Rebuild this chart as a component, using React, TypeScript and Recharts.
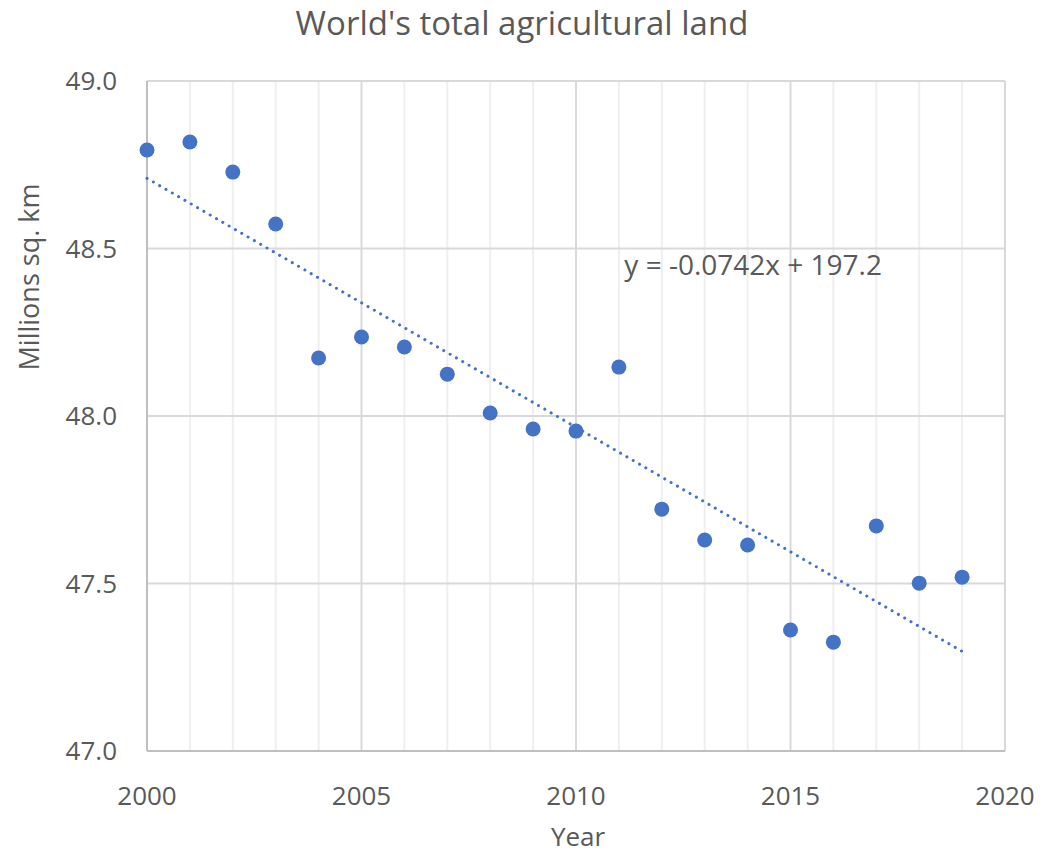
import React from 'react';
import {
  ScatterChart,
  Scatter,
  XAxis,
  YAxis,
  CartesianGrid,
  ReferenceDot,
} from 'recharts';

const years = [
  2000, 2001, 2002, 2003, 2004, 2005, 2006, 2007, 2008, 2009,
  2010, 2011, 2012, 2013, 2014, 2015, 2016, 2017, 2018, 2019,
];
const landArea = [
  48.794, 48.818, 48.728, 48.573, 48.173, 48.236, 48.206, 48.125, 48.009, 47.961,
  47.955, 48.146, 47.722, 47.63, 47.615, 47.361, 47.325, 47.672, 47.501, 47.519,
];
const xTicks = [2000, 2005, 2010, 2015, 2020];
const yTicks = [47.0, 47.5, 48.0, 48.5, 49.0];
const minorYears = [
  2001, 2002, 2003, 2004, 2006, 2007, 2008, 2009, 2011, 2012,
  2013, 2014, 2016, 2017, 2018, 2019,
];
const majorYears = [2005, 2010, 2015, 2020];
const gridValues = [47.5, 48.0, 48.5, 49.0];
const equation = 'y = -0.0742x + 197.2';

const FONT = '"Open Sans", sans-serif';
const TEXT = '#595959';
const BLUE = '#4472c4';

const points = years.map((year, i) => ({ year, value: landArea[i] }));

// least squares fit for the dotted trendline
const fitLine = () => {
  const n = years.length;
  const mx = years.reduce((s, v) => s + v, 0) / n;
  const my = landArea.reduce((s, v) => s + v, 0) / n;
  let num = 0;
  let den = 0;
  years.forEach((x, i) => {
    num += (x - mx) * (landArea[i] - my);
    den += (x - mx) * (x - mx);
  });
  const slope = num / den;
  const first = years[0];
  const last = years[n - 1];
  return [
    { year: first, value: my + slope * (first - mx) },
    { year: last, value: my + slope * (last - mx) },
  ];
};

const trend = fitLine();

const Dot = (props: any) => <circle cx={props.cx} cy={props.cy} r={7.5} fill={BLUE} />;

const App: React.FC = () => {
  return (
    <div style={{ margin: -8, width: 1043, height: 855 }}>
      <ScatterChart
        width={1043}
        height={855}
        margin={{ top: 81, right: 38, left: 47, bottom: 44 }}
        style={{ fontFamily: FONT }}
      >
        <CartesianGrid
          horizontal={false}
          verticalValues={minorYears}
          stroke='#efefef'
          strokeWidth={2}
        />
        <CartesianGrid
          verticalValues={majorYears}
          horizontalValues={gridValues}
          stroke='#d9d9d9'
          strokeWidth={2}
        />
        <XAxis
          dataKey='year'
          type='number'
          domain={[2000, 2020]}
          ticks={xTicks}
          tickLine={false}
          tickSize={0}
          tickMargin={36}
          height={60}
          axisLine={{ stroke: '#bfbfbf', strokeWidth: 2 }}
          tick={{ fill: TEXT, fontSize: 26, fontFamily: FONT }}
        />
        <YAxis
          dataKey='value'
          type='number'
          domain={[47, 49]}
          ticks={yTicks}
          tickFormatter={(v: number) => v.toFixed(1)}
          tickLine={false}
          tickSize={0}
          tickMargin={30}
          width={100}
          axisLine={{ stroke: '#bfbfbf', strokeWidth: 2 }}
          tick={{ fill: TEXT, fontSize: 26, fontFamily: FONT }}
        />
        <Scatter
          data={trend}
          line={{
            stroke: BLUE,
            strokeWidth: 3,
            strokeDasharray: '0.1 7.2',
            strokeLinecap: 'round',
          }}
          shape={() => <g />}
          isAnimationActive={false}
        />
        <Scatter data={points} shape={Dot} isAnimationActive={false} />
        <ReferenceDot
          x={2014.13}
          y={48.45}
          r={0}
          stroke='none'
          label={{ value: equation, position: 'center', fill: TEXT, fontSize: 28, fontFamily: FONT }}
        />
        <text x={522} y={35} textAnchor='middle' fill={TEXT} fontSize={33} fontFamily={FONT}>
          World's total agricultural land
        </text>
        <text
          x={39}
          y={277}
          textAnchor='middle'
          fill={TEXT}
          fontSize={27}
          fontFamily={FONT}
          transform='rotate(-90 39 277)'
        >
          Millions sq. km
        </text>
        <text x={578} y={846} textAnchor='middle' fill={TEXT} fontSize={26} fontFamily={FONT}>
          Year
        </text>
      </ScatterChart>
    </div>
  );
};

export default App;
